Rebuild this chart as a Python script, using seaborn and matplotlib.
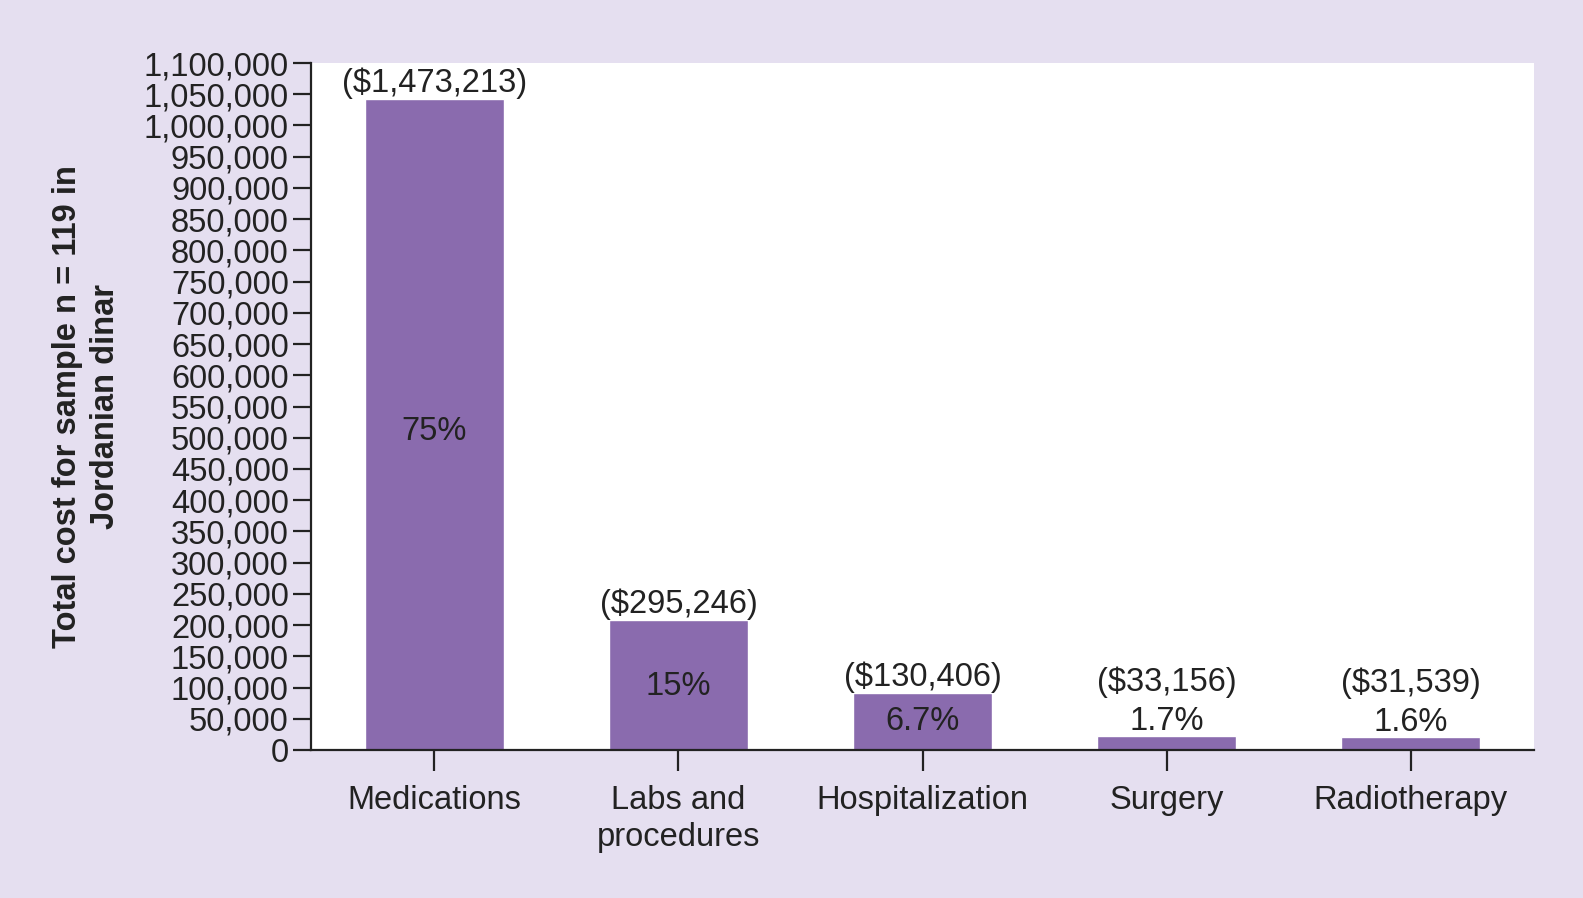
import matplotlib
matplotlib.use("Agg")
import matplotlib.pyplot as plt
import seaborn as sns
import pandas as pd
from matplotlib.ticker import FuncFormatter, MultipleLocator

# ===== Data =====
categories = ["Medications", "Labs and\nprocedures", "Hospitalization", "Surgery", "Radiotherapy"]
cost_jod = [1042000, 208500, 92000, 23000, 21500]
usd_labels = ["($1,473,213)", "($295,246)", "($130,406)", "($33,156)", "($31,539)"]
pct_labels = ["75%", "15%", "6.7%", "1.7%", "1.6%"]
pct_inside = [True, True, True, False, False]

df = pd.DataFrame({"category": categories, "cost": cost_jod})

bg = "#E5DFF0"
bar_color = "#8A6BAE"
txt = "#222222"
fs = 23.5

sns.set_style("ticks")
plt.rcParams["font.family"] = ["Liberation Sans", "DejaVu Sans"]

fig = plt.figure(figsize=(15.83, 8.98), dpi=100, facecolor=bg)
ax = fig.add_axes([311 / 1583, 1 - 750 / 898, (1534 - 311) / 1583, (750 - 63) / 898])
ax.set_facecolor("white")

sns.barplot(data=df, x="category", y="cost", color=bar_color, saturation=1,
            width=0.57, ax=ax)

ax.set_xlim(-0.505, 4.505)
ax.set_ylim(0, 1100000)
ax.yaxis.set_major_locator(MultipleLocator(50000))
ax.yaxis.set_major_formatter(FuncFormatter(lambda v, p: f"{int(v):,}"))

for s in ["top", "right"]:
    ax.spines[s].set_visible(False)
for s in ["left", "bottom"]:
    ax.spines[s].set_linewidth(1.6)
    ax.spines[s].set_color(txt)

ax.tick_params(axis="y", length=13, width=1.6, labelsize=fs, pad=3, colors=txt)
ax.tick_params(axis="x", length=15, width=1.6, labelsize=fs, pad=10, colors=txt)
for lab in ax.get_xticklabels():
    lab.set_linespacing(1.25)
ax.set_xlabel("")
ax.set_ylabel("Total cost for sample n = 119 in\nJordanian dinar", fontsize=fs,
              fontweight="bold", labelpad=16, color=txt, linespacing=1.3)

# Annotations
for i, (v, usd, pct, inside) in enumerate(zip(cost_jod, usd_labels, pct_labels, pct_inside)):
    if inside:
        ax.text(i, v * 0.49, pct, ha="center", va="center", fontsize=fs, color=txt)
        ax.annotate(usd, (i, v), xytext=(0, 0), textcoords="offset points",
                    ha="center", va="bottom", fontsize=fs, color=txt)
    else:
        ax.annotate(pct, (i, v), xytext=(0, -1), textcoords="offset points",
                    ha="center", va="bottom", fontsize=fs, color=txt)
        ax.annotate(usd, (i, v), xytext=(0, 27), textcoords="offset points",
                    ha="center", va="bottom", fontsize=fs, color=txt)

fig.savefig("out.png", dpi=100, facecolor=bg)
